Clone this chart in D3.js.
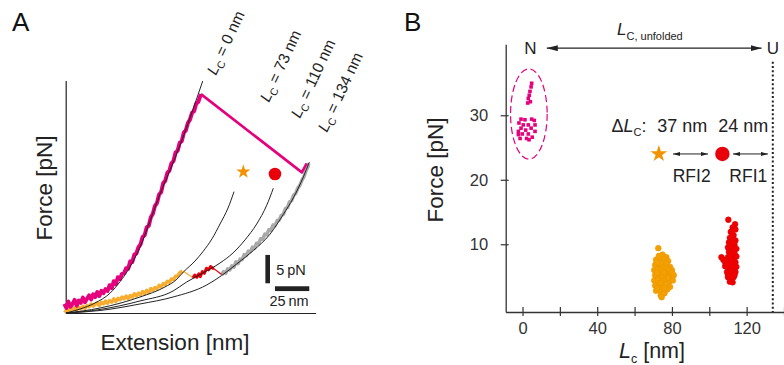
<!DOCTYPE html>
<html>
<head>
<meta charset="utf-8">
<script src="https://cdn.jsdelivr.net/npm/d3@7"></script>
<style>
  html, body { margin: 0; padding: 0; background: #fff; }
  svg { display: block; font-family: "Liberation Sans", Arial, Helvetica, sans-serif; }
</style>
</head>
<body>
<svg id="chart"></svg>
<script>
// ---------------- Panel A data (extension [nm], force [pN]) ----------------
const fitLabels = ["0 nm", "73 nm", "110 nm", "134 nm"];

// WLC fit curves
const fitLc0 = [[0.2, 0], [10.4, 0.7], [21.3, 1.76], [32.3, 3.5], [39.5, 5.5], [46.8, 8.1],
  [54.1, 11.6], [61.4, 16.2], [68.7, 21.0], [76.0, 25.2], [83.3, 29.6], [90.5, 34.4],
  [97.8, 39.5], [99.8, 40.9]];
const fitLc73 = [[0.2, 0], [25, 0.88], [54.1, 2.82], [72.3, 4.59], [80.3, 5.82], [85.7, 7.23],
  [94.2, 9.17], [100.2, 10.9], [106.6, 13.1], [112.4, 15.7], [118.2, 18.5], [122.6, 21.4]];
const fitLc110 = [[0.2, 0], [25, 0.62], [54.1, 2.12], [78.2, 3.88], [88.1, 5.47], [100, 7.05],
  [112.4, 8.82], [121.9, 10.6], [130.6, 12.9], [139.1, 15.7], [146.4, 19.0], [151.2, 22.0]];
const fitLc134 = [[0.2, 0], [25, 0.44], [54.1, 1.59], [78.2, 2.82], [102.7, 4.94], [113.6, 6.61],
  [124.5, 8.64], [136.6, 11.0], [148.8, 13.9], [158.5, 17.4], [165.8, 20.3], [173.1, 24.0],
  [177.4, 26.6]];

// measured traces
const magentaTrace = [[-1, 1.6], [0.5, 0.9], [2, 2.0], [3.5, 1.1], [5, 1.6], [6.5, 2.3], [8, 1.3],
  [9.5, 2.2], [11, 1.8], [12.5, 2.7], [14, 1.9], [15.5, 2.5], [17, 3.1], [18.5, 2.4], [20, 3.3],
  [21.5, 2.8], [23, 3.7], [24.5, 3.0], [26, 3.9], [27.5, 3.5], [29, 4.2], [30.5, 3.9], [32, 4.9],
  [33.5, 4.4], [35, 5.6], [36.5, 5.1], [38, 6.3], [39.5, 6.0], [41, 6.9], [42.5, 7.0], [44, 7.9],
  [45.5, 7.8], [47, 9.1], [48.5, 9.0], [50, 10.3], [51.5, 10.5], [53, 11.6], [54.5, 12.1],
  [56, 13.4], [57.5, 13.7], [59, 15.1], [60.5, 15.4], [62, 16.9], [63.5, 17.5], [65, 18.9],
  [66.5, 19.4], [68, 20.9], [69.5, 21.3], [71, 22.9], [72.5, 23.3], [74, 24.7], [75.5, 25.1],
  [77, 26.4], [78.5, 26.8], [80, 28.3], [81.5, 28.6], [83, 30.0], [84.5, 30.3], [86, 31.8],
  [87.5, 32.2], [89, 33.5], [90.5, 34.1], [92, 35.3], [93.5, 35.6], [95, 36.9], [96.5, 37.2],
  [98.5, 38.6]];
const magentaJump = [[98.5, 38.6], [172, 24.8], [175.5, 26.4]];
const orangeTrace = [[-1, 0.5], [0.5, 0.2], [2, 0.7], [3.5, 0.3], [5, 0.6], [6.5, 0.9], [8, 0.5],
  [9.5, 1.0], [11, 0.7], [12.5, 1.2], [14, 0.8], [15.5, 1.3], [17, 1.1], [18.5, 1.6], [20, 1.2],
  [21.5, 1.5], [23, 1.8], [24.5, 1.3], [26, 1.9], [27.5, 1.6], [29, 2.1], [30.5, 1.7], [32, 2.2],
  [33.5, 1.9], [35, 2.5], [36.5, 2.0], [38, 2.6], [39.5, 2.3], [41, 2.8], [42.5, 2.5], [44, 3.0],
  [45.5, 2.5], [47, 3.1], [48.5, 2.8], [50, 3.4], [51.5, 3.0], [53, 3.5], [54.5, 3.2], [56, 3.8],
  [57.5, 3.4], [59, 4.0], [60.5, 3.6], [62, 4.3], [63.5, 4.0], [65, 4.5], [66.5, 4.2], [68, 4.9],
  [69.5, 4.6], [71, 5.2], [72.5, 5.0], [74, 5.6], [75.5, 5.4], [77, 6.0], [78.5, 5.9], [80, 6.5],
  [81.5, 6.5], [83, 7.1], [85, 7.4]];
const orangeDrop = [[85.5, 7.4], [92.7, 6.2]];
const redTrace = [[92.7, 6.2], [94, 6.7], [95.5, 6.3], [97, 6.9], [98, 6.4], [99.5, 7.3],
  [101, 7.0], [102.5, 7.9], [104, 7.6], [105.5, 8.2], [107, 7.9], [108, 7.8]];
const redLink = [[108, 7.8], [113.6, 6.8]];
const grayTrace = [[113.6, 6.7], [115, 7.3], [116.5, 7.0], [118, 7.8], [119.5, 7.6], [121, 8.3],
  [122.5, 8.1], [124, 9.0], [125.5, 8.7], [127, 9.5], [128.5, 9.4], [130, 10.3], [131.5, 10.1],
  [133, 10.9], [134.5, 10.8], [136, 11.6], [137.5, 11.4], [139, 12.3], [140.5, 12.2], [142, 13.1],
  [143.5, 13.0], [145, 13.9], [146.5, 13.8], [148, 14.7], [149.5, 14.6], [151, 15.5],
  [152.5, 15.4], [154, 16.3], [155.5, 16.4], [157, 17.2], [158.5, 17.4], [160, 18.4],
  [161.5, 18.6], [163, 19.6], [164.5, 19.8], [166, 20.8], [167.5, 21.1], [169, 22.0],
  [170.5, 22.5], [172, 23.4], [173.5, 24.0], [175, 25.1], [176.3, 25.7], [177, 26.4]];
const markersA = [[129.4, 24.9], [152.4, 24.5]]; // star (RFI2), dot (RFI1)
const scaleBarForce = 5;
const scaleBarExt = 25;

// ---------------- Panel B data (Lc [nm], force [pN]) ----------------
const xTicksB = [0, 20, 40, 60, 80, 100, 120, 140];
const xLabelsB = [0, 40, 80, 120];
const yTicksB = [10, 20, 30];
const nativePts = [[4.9, 34.96], [4.6, 34.4], [4.0, 33.7], [3.6, 33.1], [3.1, 32.6], [4.2, 32.1],
  [2.8, 31.9], [-0.8, 29.4], [1.3, 29.3], [4.9, 29.4], [6.3, 29.2], [-1.9, 28.8], [0.4, 28.5],
  [3.1, 28.5], [6.7, 28.5], [-0.8, 28.0], [1.7, 27.7], [4.6, 28.0], [-2.2, 27.5], [-0.1, 27.1],
  [3.1, 27.1], [6.7, 27.5], [-1.3, 26.4], [2.2, 26.4], [5.2, 26.6], [-2.2, 27.0], [3.5, 26.2]];
const rfi2Pts = [[72.7, 9.4], [73, 8.2], [75, 8.4], [77, 8.0], [71.5, 7.6], [74, 7.5], [76, 7.7],
  [78, 7.4], [71, 6.8], [73, 6.9], [75, 6.6], [77, 7.0], [79, 6.5], [70.5, 6.0], [72.5, 6.1],
  [74.5, 5.9], [76.5, 6.2], [78.5, 5.8], [80, 6.0], [71, 5.2], [73, 5.3], [75, 5.0], [77, 5.4],
  [79, 5.1], [81, 5.2], [70.5, 4.4], [72.5, 4.5], [74.5, 4.3], [76.5, 4.6], [78.5, 4.2],
  [80.5, 4.4], [71, 3.6], [73, 3.7], [75, 3.5], [77, 3.8], [79, 3.4], [71.5, 2.8], [73.5, 2.9],
  [75.5, 2.7], [77.5, 3.0], [74, 2.1], [76, 2.4], [74.5, 1.8], [74, 7.1], [76, 5.6], [72, 5.6],
  [78, 4.8], [74, 4.0], [76, 3.2], [72, 3.2], [80, 5.6], [72, 7.2], [78, 6.2]];
const rfi1Pts = [[110.2, 13.8], [113.8, 13.1], [112.5, 12.6], [114, 12.3], [111.5, 11.9],
  [113, 11.4], [111, 11.0], [112.5, 10.8], [114, 10.6], [110.5, 10.3], [112, 10.1], [113.5, 9.9],
  [110, 9.5], [111.5, 9.4], [113, 9.2], [114.5, 9.3], [110.5, 8.8], [112, 8.7], [113.5, 8.6],
  [106.5, 8.0], [107.5, 7.6], [108.5, 7.2], [110, 8.0], [111.5, 7.9], [113, 7.8], [114.5, 8.1],
  [109.5, 7.2], [111, 7.1], [112.5, 7.0], [114, 7.2], [108.5, 6.6], [110, 6.4], [111.5, 6.3],
  [113, 6.4], [114.5, 6.5], [109.5, 5.7], [111, 5.6], [112.5, 5.5], [114, 5.7], [110, 4.9],
  [111.5, 4.8], [113, 4.9], [111, 4.2], [112.5, 4.1], [111, 9.9], [112, 12.0], [113, 10.3],
  [110, 5.3], [112, 5.9], [113.5, 5.2], [112, 7.5], [111, 8.2]];
const nativeEllipse = { lc: 3.4, force: 30.2, dLc: 9.8, dForce: 7.0 };
const lcUnfolded = 134;
const markerForce = 24;
const markerLc = [73, 107];
const deltaLc = ["37 nm", "24 nm"];
const intermediates = ["RFI2", "RFI1"];

// colours
const magenta = "#e5007d";
const orangeLight = "#f8ad2e";
const orange = "#f39200";
const red = "#e8000b";
const grey = "#a9a9a9";
const ink = "#222";

const width = 784;
const height = 365;

const svg = d3.select("#chart").attr("width", width).attr("height", height);
svg.append("rect").attr("width", width).attr("height", height).attr("fill", "#fff");

const defs = svg.append("defs");
const addHead = (id, w, h) => {
  defs.append("marker")
    .attr("id", id)
    .attr("viewBox", `0 0 ${w} ${h}`)
    .attr("refX", w).attr("refY", h / 2)
    .attr("markerWidth", w).attr("markerHeight", h)
    .attr("markerUnits", "userSpaceOnUse")
    .attr("orient", "auto-start-reverse")
    .append("path")
    .attr("d", `M0,0L${w},${h / 2}L0,${h}Z`)
    .attr("fill", ink);
};
addHead("headBig", 11, 6);
addHead("headSmall", 7, 4);

///////////////////////////////////////////////////
/////////////////// Panel A ///////////////////////
///////////////////////////////////////////////////

const xA = d3.scaleLinear().domain([0, 182]).range([65.7, 315.6]);
const yA = d3.scaleLinear().domain([0, 41]).range([313, 80.5]);

const gA = svg.append("g").attr("class", "panel-a");

gA.append("g")
  .attr("transform", `translate(0,${yA(0)})`)
  .call(d3.axisBottom(xA).tickValues([]).tickSizeOuter(0))
  .call((g) => g.select(".domain").attr("stroke", ink).attr("stroke-width", 1.2));
gA.append("g")
  .attr("transform", `translate(${xA(0)},0)`)
  .call(d3.axisLeft(yA).tickValues([]).tickSizeOuter(0))
  .call((g) => g.select(".domain").attr("stroke", ink).attr("stroke-width", 1.2));

const lineA = d3.line().x((d) => xA(d[0])).y((d) => yA(d[1]));
const smoothA = d3.line().x((d) => xA(d[0])).y((d) => yA(d[1])).curve(d3.curveMonotoneX);

// noisy traces first, fits on top
const trace = (data, color, w) =>
  gA.append("path")
    .attr("d", lineA(data))
    .attr("fill", "none")
    .attr("stroke", color)
    .attr("stroke-width", w)
    .attr("stroke-linejoin", "round");

trace(grayTrace, grey, 3.6);
trace(orangeTrace, orangeLight, 3.4);
trace(orangeDrop, orangeLight, 1.2);
trace(redTrace, red, 3);
trace(redLink, red, 1.2);
trace(magentaTrace, magenta, 4);
trace(magentaJump, magenta, 2.6);

[fitLc0, fitLc73, fitLc110, fitLc134].forEach((fit) => {
  gA.append("path")
    .attr("d", smoothA(fit))
    .attr("fill", "none")
    .attr("stroke", ink)
    .attr("stroke-width", 1);
});

// rotated Lc labels
const labelPosA = [[216, 76], [269, 103], [300, 119], [327, 133]];
fitLabels.forEach((txt, i) => {
  const t = gA.append("text")
    .attr("transform", `translate(${labelPosA[i][0]},${labelPosA[i][1]}) rotate(-65)`)
    .attr("font-size", 15.5)
    .attr("fill", ink);
  t.append("tspan").attr("font-style", "italic").text("L");
  t.append("tspan").attr("font-size", 10.5).attr("dy", 3.5).text("C");
  t.append("tspan").attr("dy", -3.5).text(" = " + txt);
});

// markers
gA.append("path")
  .attr("transform", `translate(${xA(markersA[0][0])},${yA(markersA[0][1])})`)
  .attr("d", d3.symbol(d3.symbolStar, 62)())
  .attr("fill", orange);
gA.append("circle")
  .attr("cx", xA(markersA[1][0]))
  .attr("cy", yA(markersA[1][1]))
  .attr("r", 6.3)
  .attr("fill", red);

// scale bars
const barX = 147.1;
const barF = 5.24;
gA.append("rect")
  .attr("x", xA(barX) - 2.3)
  .attr("y", yA(barF + scaleBarForce))
  .attr("width", 4.6)
  .attr("height", yA(barF) - yA(barF + scaleBarForce))
  .attr("fill", ink);
gA.append("text")
  .attr("x", xA(barX) + 8.5).attr("y", yA(barF) - 8.5)
  .attr("font-size", 14.5).attr("fill", ink)
  .text("5\u2009pN");
const hbarE = 152.4;
const hbarF = 4.29;
gA.append("rect")
  .attr("x", xA(hbarE))
  .attr("y", yA(hbarF) - 2.4)
  .attr("width", xA(hbarE + scaleBarExt) - xA(hbarE))
  .attr("height", 4.8)
  .attr("fill", ink);
gA.append("text")
  .attr("x", xA(hbarE + scaleBarExt / 2) - 3).attr("y", 306)
  .attr("text-anchor", "middle")
  .attr("font-size", 14.5).attr("fill", ink)
  .text("25\u2009nm");

// axis titles
gA.append("text")
  .attr("x", 175).attr("y", 350)
  .attr("text-anchor", "middle")
  .attr("font-size", 22.5).attr("fill", ink)
  .text("Extension [nm]");
gA.append("text")
  .attr("transform", "translate(51.5,188) rotate(-90)")
  .attr("text-anchor", "middle")
  .attr("font-size", 22.5).attr("fill", ink)
  .text("Force [pN]");
svg.append("text")
  .attr("x", 12).attr("y", 30.7)
  .attr("font-size", 26).attr("fill", "#111")
  .text("A");

///////////////////////////////////////////////////
/////////////////// Panel B ///////////////////////
///////////////////////////////////////////////////

const xB = d3.scaleLinear().domain([-9, 140]).range([505.7, 784]);
const yB = d3.scaleLinear().domain([-0.5, 41]).range([312, 44.3]);

const gB = svg.append("g").attr("class", "panel-b");

const xAxisB = gB.append("g")
  .attr("transform", `translate(0,${yB(-0.5)})`)
  .call(
    d3.axisBottom(xB)
      .tickValues(xTicksB)
      .tickSize(4)
      .tickSizeOuter(0)
      .tickFormat((d) => (xLabelsB.includes(d) ? d : ""))
  );
xAxisB.selectAll(".tick line").attr("y1", -5);
xAxisB.selectAll(".tick text").attr("y", 10).attr("font-size", 16.5).attr("fill", "#333")
  .attr("font-family", "Liberation Sans, Arial, sans-serif");

const yAxisB = gB.append("g")
  .attr("transform", `translate(${xB(-9)},0)`)
  .call(d3.axisLeft(yB).tickValues(yTicksB).tickSize(5).tickSizeOuter(0).tickPadding(12.5));
yAxisB.selectAll(".tick line").attr("x1", 3);
yAxisB.selectAll(".tick text").attr("font-size", 16.5).attr("fill", "#333")
  .attr("font-family", "Liberation Sans, Arial, sans-serif");

[xAxisB, yAxisB].forEach((ax) => {
  ax.select(".domain").attr("stroke", "#333").attr("stroke-width", 1.3);
  ax.selectAll(".tick line").attr("stroke", "#333").attr("stroke-width", 1.2);
});

// unfolded contour length (dotted)
gB.append("line")
  .attr("x1", xB(lcUnfolded)).attr("x2", xB(lcUnfolded))
  .attr("y1", yB(38.3)).attr("y2", yB(-0.5))
  .attr("stroke", ink)
  .attr("stroke-width", 2)
  .attr("stroke-dasharray", "2,2.3");

// native state: ellipse + squares
gB.append("ellipse")
  .attr("cx", xB(nativeEllipse.lc))
  .attr("cy", yB(nativeEllipse.force))
  .attr("rx", xB(nativeEllipse.lc + nativeEllipse.dLc) - xB(nativeEllipse.lc))
  .attr("ry", yB(nativeEllipse.force - nativeEllipse.dForce) - yB(nativeEllipse.force))
  .attr("fill", "none")
  .attr("stroke", magenta)
  .attr("stroke-width", 1.2)
  .attr("stroke-dasharray", "7,3.5");
gB.append("g")
  .selectAll("rect")
  .data(nativePts)
  .join("rect")
  .attr("x", (d) => xB(d[0]) - 1.8)
  .attr("y", (d) => yB(d[1]) - 1.8)
  .attr("width", 3.6)
  .attr("height", 3.6)
  .attr("fill", magenta);

// intermediates
gB.append("g")
  .selectAll("circle")
  .data(rfi2Pts)
  .join("circle")
  .attr("cx", (d) => xB(d[0]))
  .attr("cy", (d) => yB(d[1]))
  .attr("r", 2.9)
  .attr("fill", "#f4a100")
  .attr("stroke", "#e69500")
  .attr("stroke-width", 0.5);
gB.append("g")
  .selectAll("circle")
  .data(rfi1Pts)
  .join("circle")
  .attr("cx", (d) => xB(d[0]))
  .attr("cy", (d) => yB(d[1]))
  .attr("r", 2.9)
  .attr("fill", "#f00000")
  .attr("stroke", "#e00000")
  .attr("stroke-width", 0.5);

// N <-> U arrow
gB.append("line")
  .attr("x1", xB(13)).attr("x2", xB(128))
  .attr("y1", yB(40.4)).attr("y2", yB(40.4))
  .attr("stroke", ink).attr("stroke-width", 1.2)
  .attr("marker-start", "url(#headBig)")
  .attr("marker-end", "url(#headBig)");
gB.append("text")
  .attr("x", xB(4.2)).attr("y", 54)
  .attr("text-anchor", "middle").attr("font-size", 17).attr("fill", ink)
  .text("N");
gB.append("text")
  .attr("x", xB(lcUnfolded)).attr("y", 54)
  .attr("text-anchor", "middle").attr("font-size", 17).attr("fill", ink)
  .text("U");
const lcu = gB.append("text").attr("x", 617).attr("y", 35).attr("fill", ink).attr("font-size", 17);
lcu.append("tspan").attr("font-style", "italic").text("L");
lcu.append("tspan").attr("font-size", 11).attr("dy", 5).text("C, unfolded");

// delta Lc markers
gB.append("path")
  .attr("transform", `translate(${xB(markerLc[0])},${yB(markerForce)})`)
  .attr("d", d3.symbol(d3.symbolStar, 88)())
  .attr("fill", orange);
gB.append("circle")
  .attr("cx", xB(markerLc[1]))
  .attr("cy", yB(markerForce))
  .attr("r", 7.2)
  .attr("fill", red);
[[80.6, 99.3], [112.7, 131.4]].forEach((seg) => {
  gB.append("line")
    .attr("x1", xB(seg[0])).attr("x2", xB(seg[1]))
    .attr("y1", yB(markerForce)).attr("y2", yB(markerForce))
    .attr("stroke", ink).attr("stroke-width", 1)
    .attr("marker-start", "url(#headSmall)")
    .attr("marker-end", "url(#headSmall)");
});
const dl = gB.append("text").attr("x", 611.5).attr("y", 132).attr("fill", ink).attr("font-size", 18);
dl.append("tspan").text("\u0394");
dl.append("tspan").attr("font-style", "italic").text("L");
dl.append("tspan").attr("font-size", 11).attr("dy", 4).text("C");
dl.append("tspan").attr("dy", -4).text(":");
[682.3, 743.3].forEach((x, i) => {
  gB.append("text")
    .attr("x", x).attr("y", 132)
    .attr("text-anchor", "middle").attr("font-size", 18).attr("fill", ink)
    .text(deltaLc[i]);
});
[691.7, 748.3].forEach((x, i) => {
  gB.append("text")
    .attr("x", x).attr("y", 182)
    .attr("text-anchor", "middle").attr("font-size", 17.5).attr("fill", ink)
    .text(intermediates[i]);
});

// axis titles
const xt = gB.append("text").attr("x", 619).attr("y", 357.5).attr("fill", ink).attr("font-size", 21.5);
xt.append("tspan").attr("font-style", "italic").text("L");
xt.append("tspan").attr("font-size", 12.5).attr("dy", 5).text("c");
xt.append("tspan").attr("dy", -5).text(" [nm]");
gB.append("text")
  .attr("transform", "translate(443,170) rotate(-90)")
  .attr("text-anchor", "middle")
  .attr("font-size", 22.5).attr("fill", ink)
  .text("Force [pN]");
svg.append("text")
  .attr("x", 404).attr("y", 30.7)
  .attr("font-size", 26).attr("fill", "#111")
  .text("B");
</script>
</body>
</html>
